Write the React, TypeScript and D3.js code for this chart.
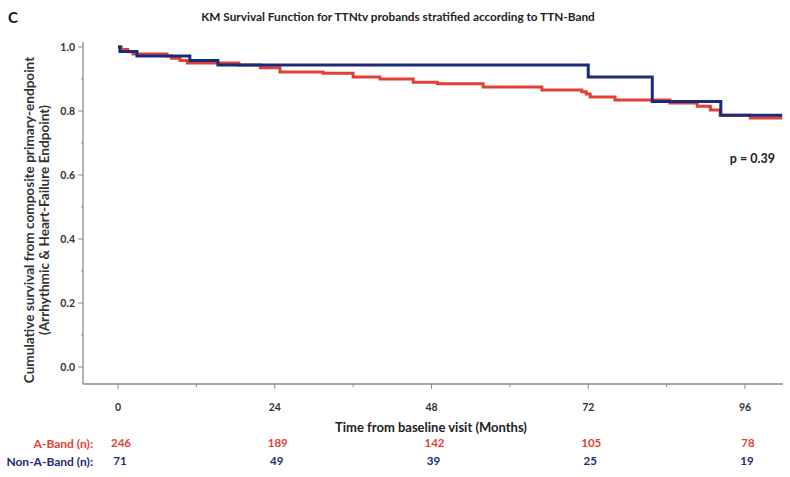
import React from "react";
import * as d3 from "d3";

const aBandTimes = [0, 0.5, 1.5, 2.3, 7.5, 8.2, 9.5, 10.6, 18.5, 21.8, 24.8, 31.4, 36, 40.1, 45.2, 48.9, 55.9, 64.9, 71, 71.7, 72.3, 76.1, 84.5, 88.7, 90.7, 92.2, 96.8, 101.7];
const aBandSurv = [1.0, 0.992, 0.985, 0.978, 0.972, 0.965, 0.958, 0.95, 0.944, 0.935, 0.922, 0.918, 0.906, 0.9, 0.89, 0.885, 0.875, 0.866, 0.86, 0.853, 0.844, 0.834, 0.825, 0.815, 0.803, 0.787, 0.778, 0.778];
const nonABandTimes = [0, 0.3, 2.9, 11, 15.3, 72, 81.8, 92.3, 101.7];
const nonABandSurv = [1.0, 0.986, 0.972, 0.958, 0.944, 0.906, 0.83, 0.787, 0.787];

const xTickLabels = [0, 24, 48, 72, 96];
const xMinorTicks = [12, 36, 60, 84];
const yTickLabels = [0.0, 0.2, 0.4, 0.6, 0.8, 1.0];
const yMinorTicks = [0.1, 0.3, 0.5, 0.7, 0.9];
const aBandAtRisk = [246, 189, 142, 105, 78];
const nonABandAtRisk = [71, 49, 39, 25, 19];

const RED = "#e23f35";
const BLUE = "#1b2a7a";
const AXIS = "#8a8a8a";
const FONT = "Lato, 'Open Sans', sans-serif";

export default function App() {
  const W = 790, H = 477;
  const x = d3.scaleLinear().domain([0, 96]).range([118, 745]);
  const y = d3.scaleLinear().domain([0, 1]).range([367, 47]);
  const axisLeft = 83, axisBottom = 384, axisRight = 783, axisTop = 42;

  const line = d3.line<[number, number]>()
    .x(d => x(d[0]))
    .y(d => y(d[1]))
    .curve(d3.curveStepAfter);

  const redPts = aBandTimes.map((t, i) => [t, aBandSurv[i]] as [number, number]);
  const bluePts = nonABandTimes.map((t, i) => [t, nonABandSurv[i]] as [number, number]);

  return (
    <svg width={W} height={H} style={{ position: "absolute", left: 0, top: 0, background: "#fff" }} fontFamily={FONT}>
      <rect x={0} y={0} width={W} height={H} fill="#fff" />
      <text x={8} y={23} fontSize={15} fontWeight="bold" fill="#111">C</text>
      <text x={398} y={21} fontSize={11.8} fontWeight="bold" fill="#222" textAnchor="middle">
        KM Survival Function for TTNtv probands stratified according to TTN-Band
      </text>

      {/* axes */}
      <line x1={axisLeft} x2={axisLeft} y1={axisTop} y2={axisBottom} stroke={AXIS} strokeWidth={1.3} />
      <line x1={axisLeft} x2={axisRight} y1={axisBottom} y2={axisBottom} stroke={AXIS} strokeWidth={1.3} />

      {yTickLabels.map(v => (
        <g key={"y" + v}>
          <line x1={axisLeft - 5} x2={axisLeft} y1={y(v)} y2={y(v)} stroke={AXIS} strokeWidth={1} />
          <text x={axisLeft - 8} y={y(v)} dy="0.35em" fontSize={10.5} fontWeight="bold" fill="#333" textAnchor="end">
            {d3.format(".1f")(v)}
          </text>
        </g>
      ))}
      {yMinorTicks.map(v => (
        <line key={"ym" + v} x1={axisLeft - 2} x2={axisLeft} y1={y(v)} y2={y(v)} stroke={AXIS} strokeWidth={1} />
      ))}

      {xTickLabels.map(v => (
        <g key={"x" + v}>
          <line x1={x(v)} x2={x(v)} y1={axisBottom} y2={axisBottom + 5} stroke={AXIS} strokeWidth={1} />
          <text x={x(v)} y={407} dy="0.35em" fontSize={10.5} fontWeight="bold" fill="#333" textAnchor="middle">{v}</text>
        </g>
      ))}
      {xMinorTicks.map(v => (
        <line key={"xm" + v} x1={x(v)} x2={x(v)} y1={axisBottom} y2={axisBottom + 3} stroke={AXIS} strokeWidth={1} />
      ))}

      <text x={431} y={427} dy="0.35em" fontSize={13} fontWeight="bold" fill="#222" textAnchor="middle">
        Time from baseline visit (Months)
      </text>

      <g transform="translate(29,220) rotate(-90)">
        <text x={0} y={0} fontSize={13.6} fontWeight="bold" fill="#333" textAnchor="middle" dy="0.35em">
          Cumulative survival from composite primary-endpoint
        </text>
        <text x={0} y={15} fontSize={13.6} fontWeight="bold" fill="#333" textAnchor="middle" dy="0.35em">
          (Arrhythmic &amp; Heart-Failure Endpoint)
        </text>
      </g>

      {/* curves */}
      <path d={line(redPts) || ""} fill="none" stroke={RED} strokeWidth={3} />
      <path d={line(bluePts) || ""} fill="none" stroke={BLUE} strokeWidth={3} />

      <text x={775} y={159} dy="0.35em" fontSize={12.5} fontWeight="bold" fill="#222" textAnchor="end">p = 0.39</text>

      {/* at-risk table */}
      <text x={93} y={444} dy="0.35em" fontSize={12} fontWeight="bold" fill={RED} textAnchor="end">A-Band (n):</text>
      <text x={93} y={462} dy="0.35em" fontSize={12} fontWeight="bold" fill={BLUE} textAnchor="end">Non-A-Band (n):</text>
      {aBandAtRisk.map((n, i) => (
        <text key={"a" + i} x={x(xTickLabels[i]) + 3} y={443} dy="0.35em" fontSize={11.5} fontWeight="bold" fill={RED} textAnchor="middle">{n}</text>
      ))}
      {nonABandAtRisk.map((n, i) => (
        <text key={"n" + i} x={x(xTickLabels[i]) + 2} y={461} dy="0.35em" fontSize={11.5} fontWeight="bold" fill={BLUE} textAnchor="middle">{n}</text>
      ))}
    </svg>
  );
}
